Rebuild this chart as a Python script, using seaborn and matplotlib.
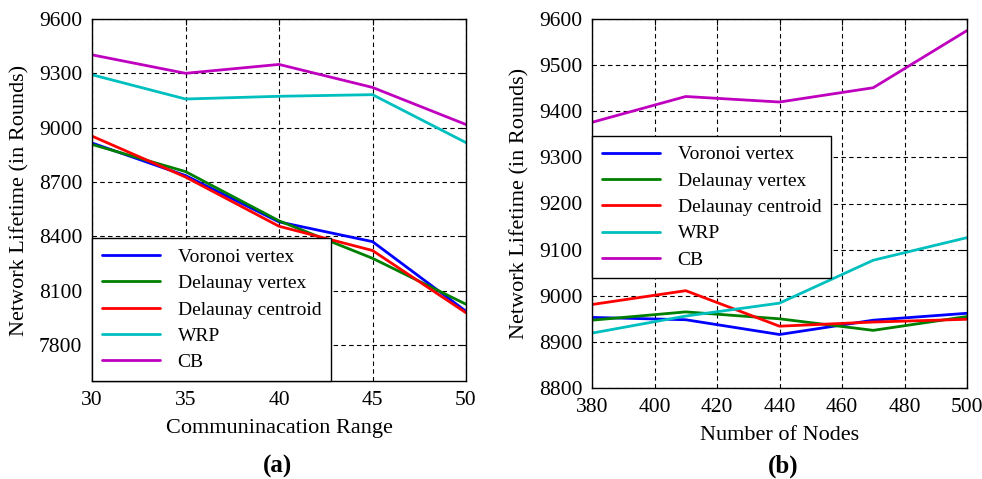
import matplotlib
matplotlib.use('Agg')
import matplotlib.pyplot as plt
import pandas as pd
import seaborn as sns

methods = ['Voronoi vertex', 'Delaunay vertex', 'Delaunay centroid', 'WRP', 'CB']
colors = ['#0000ff', '#008000', '#ff0000', '#00bfbf', '#bf00bf']

# (a) lifetime vs communication range
comm_range = [30, 35, 40, 45, 50]
a_voronoi = [8915, 8735, 8479, 8370, 7985]
a_del_vertex = [8907, 8757, 8485, 8278, 8024]
a_del_centroid = [8953, 8727, 8455, 8321, 7977]
a_wrp = [9292, 9158, 9173, 9182, 8917]
a_cb = [9402, 9300, 9349, 9222, 9017]

# (b) lifetime vs number of nodes
num_nodes = [380, 410, 440, 470, 500]
b_voronoi = [8953, 8948, 8916, 8947, 8962]
b_del_vertex = [8947, 8965, 8950, 8925, 8955]
b_del_centroid = [8981, 9011, 8934, 8943, 8949]
b_wrp = [8919, 8956, 8984, 9077, 9126]
b_cb = [9376, 9432, 9420, 9451, 9575]


def long_form(x, series):
    rows = []
    for name, vals in zip(methods, series):
        for xi, v in zip(x, vals):
            rows.append({'x': xi, 'y': v, 'method': name})
    return pd.DataFrame(rows)


df_a = long_form(comm_range, [a_voronoi, a_del_vertex, a_del_centroid, a_wrp, a_cb])
df_b = long_form(num_nodes, [b_voronoi, b_del_vertex, b_del_centroid, b_wrp, b_cb])

sns.set_style('white')
plt.rcParams['font.family'] = ['Liberation Serif', 'DejaVu Serif']
plt.rcParams['text.color'] = 'black'
plt.rcParams['axes.labelcolor'] = 'black'
plt.rcParams['xtick.color'] = 'black'
plt.rcParams['ytick.color'] = 'black'

fig = plt.figure(figsize=(9.82, 4.79), dpi=100)
ax_a = fig.add_axes([92 / 982, 1 - 381 / 479, 374 / 982, 362 / 479])
ax_b = fig.add_axes([592 / 982, 1 - 388 / 479, 375 / 982, 369 / 479])

palette = dict(zip(methods, colors))


def style_axes(ax, xlabel, xticks, ylim, yticks):
    ax.set_xlim(xticks[0], xticks[-1])
    ax.set_ylim(*ylim)
    ax.set_xticks(xticks)
    ax.set_yticks(yticks)
    ax.grid(True, color='black', linestyle=(0, (4, 3)), linewidth=0.8)
    ax.set_axisbelow(True)
    for s in ax.spines.values():
        s.set_color('black')
        s.set_linewidth(1.0)
    ax.tick_params(axis='both', labelsize=15.5, direction='in', length=4,
                   width=0.8, color='black', labelcolor='black', pad=7,
                   top=True, right=True)
    ax.set_xlabel(xlabel, fontsize=16, color='black')
    ax.set_ylabel('Network Lifetime (in Rounds)', fontsize=16, color='black')


def add_legend(ax, anchor_y, loc):
    leg = ax.legend(loc=loc, bbox_to_anchor=(0, anchor_y), borderaxespad=0,
                    fontsize=14, fancybox=False, framealpha=1, edgecolor='black',
                    handlelength=3.0, handletextpad=0.9, labelspacing=0.45,
                    borderpad=0.5, labelcolor='black')
    leg.get_frame().set_linewidth(1.0)
    return leg


sns.lineplot(data=df_a, x='x', y='y', hue='method', hue_order=methods,
             palette=palette, linewidth=2.0, ax=ax_a)
style_axes(ax_a, 'Communinacation Range', comm_range, (7600, 9600),
           [7800, 8100, 8400, 8700, 9000, 9300, 9600])
ax_a.yaxis.set_label_coords(-0.166, 0.5)
ax_a.xaxis.set_label_coords(0.5, -0.105)
add_legend(ax_a, 0, 'lower left')

sns.lineplot(data=df_b, x='x', y='y', hue='method', hue_order=methods,
             palette=palette, linewidth=2.0, ax=ax_b)
style_axes(ax_b, 'Number of Nodes', [380, 400, 420, 440, 460, 480, 500], (8800, 9600),
           [8800, 8900, 9000, 9100, 9200, 9300, 9400, 9500, 9600])
ax_b.yaxis.set_label_coords(-0.168, 0.5)
ax_b.xaxis.set_label_coords(0.5, -0.103)
add_legend(ax_b, 0.683, 'upper left')

fig.text(277 / 982, 1 - 466 / 479, '(a)', fontsize=18, fontweight='bold',
         ha='center', va='center', color='black')
fig.text(783 / 982, 1 - 466 / 479, '(b)', fontsize=18, fontweight='bold',
         ha='center', va='center', color='black')

fig.savefig('out.png', dpi=100)
